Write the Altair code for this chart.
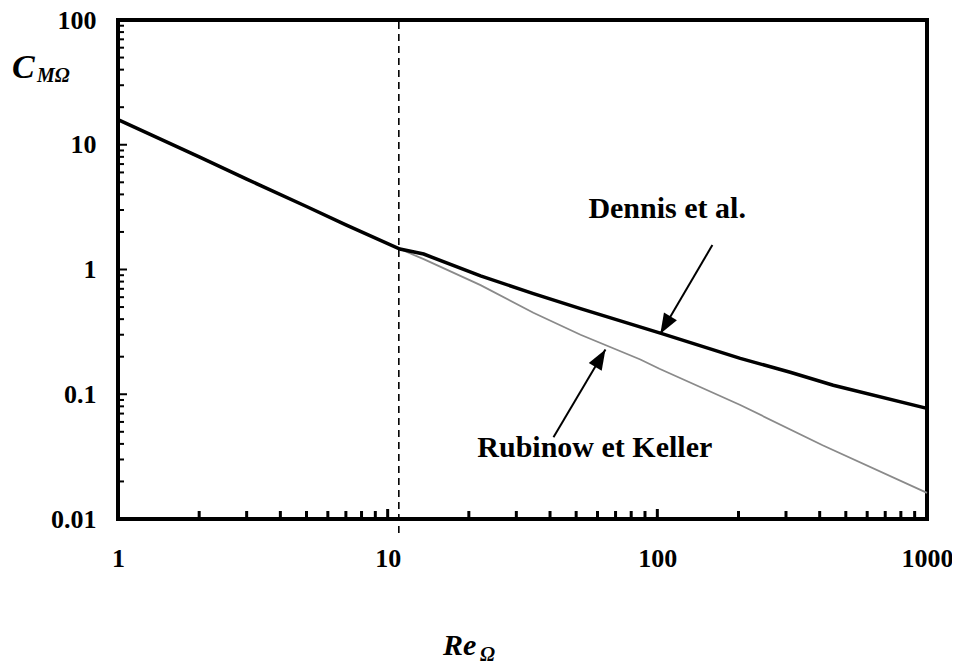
import altair as alt
import pandas as pd

# ---- data ----
dennis_re = [1, 2, 3, 5, 7, 11.1, 13.6, 22.1, 34.7, 51.9, 104, 203, 311, 449, 1000]
dennis_c = [15.9, 8.0, 5.3, 3.2, 2.28, 1.46, 1.33, 0.89, 0.64, 0.485, 0.306, 0.194, 0.150, 0.118, 0.077]

rubinow_re = [11.1, 13.6, 22.1, 34.7, 51.9, 86.5, 101.8, 203, 410, 1000]
rubinow_c = [1.46, 1.21, 0.75, 0.45, 0.30, 0.19, 0.16, 0.082, 0.039, 0.0162]

x_labels = [1, 10, 100, 1000]
y_labels = [0.01, 0.1, 1, 10, 100]
dashed_re = 11

# arrows: (start Re, start C, tip Re, tip C)
arrow_dennis = [160, 1.57, 102.6, 0.306]
arrow_rubinow = [41.2, 0.0453, 64.2, 0.228]

label_dennis = ["Dennis et al.", 55.5, 2.58]
label_rubinow = ["Rubinow et Keller", 21.5, 0.0313]

W, H = 809, 499
FONT = "Liberation Serif"

xs = alt.Scale(type="log", domain=[1, 1000], nice=False)
ys = alt.Scale(type="log", domain=[0.01, 100], nice=False)

# minor / major tick positions
x_minor = [d * k for d in [1, 10, 100] for k in range(2, 10)]
x_major = [10, 100]
y_minor = [d * k for d in [0.01, 0.1, 1, 10] for k in range(2, 10)]
y_major = [0.1, 1, 10]

df_d = pd.DataFrame({"Re": dennis_re, "C": dennis_c})
df_r = pd.DataFrame({"Re": rubinow_re, "C": rubinow_c})

base_axis_x = alt.Axis(values=x_labels, format="~g", title=None, labelPadding=26)
base_axis_y = alt.Axis(values=y_labels, format="~g", title=None, labelPadding=22)

dennis = alt.Chart(df_d).mark_line(color="black", strokeWidth=3.5).encode(
    x=alt.X("Re:Q", scale=xs, axis=base_axis_x),
    y=alt.Y("C:Q", scale=ys, axis=base_axis_y),
)
rubinow = alt.Chart(df_r).mark_line(color="#8a8a8a", strokeWidth=1.8).encode(
    x=alt.X("Re:Q", scale=xs),
    y=alt.Y("C:Q", scale=ys),
)

dashed = alt.Chart(pd.DataFrame({"Re": [dashed_re]})).mark_rule(
    color="black", strokeWidth=1.6, strokeDash=[7, 5]
).encode(x=alt.X("Re:Q", scale=xs), y=alt.value(2), y2=alt.value(H + 16))

xt_minor = alt.Chart(pd.DataFrame({"Re": x_minor})).mark_rule(color="black", strokeWidth=3).encode(
    x=alt.X("Re:Q", scale=xs), y=alt.value(H), y2=alt.value(H - 8))
xt_major = alt.Chart(pd.DataFrame({"Re": x_major})).mark_rule(color="black", strokeWidth=3).encode(
    x=alt.X("Re:Q", scale=xs), y=alt.value(H), y2=alt.value(H - 10))
yt_minor = alt.Chart(pd.DataFrame({"C": y_minor})).mark_rule(color="black", strokeWidth=2).encode(
    y=alt.Y("C:Q", scale=ys), x=alt.value(0), x2=alt.value(6))
yt_major = alt.Chart(pd.DataFrame({"C": y_major})).mark_rule(color="black", strokeWidth=2).encode(
    y=alt.Y("C:Q", scale=ys), x=alt.value(0), x2=alt.value(9))

arrows_df = pd.DataFrame({
    "x1": [arrow_dennis[0], arrow_rubinow[0]],
    "y1": [arrow_dennis[1], arrow_rubinow[1]],
    "x2": [arrow_dennis[2], arrow_rubinow[2]],
    "y2": [arrow_dennis[3], arrow_rubinow[3]],
    "ang": [210.3, 30.6],
})
shafts = alt.Chart(arrows_df).mark_rule(color="black", strokeWidth=2).encode(
    x=alt.X("x1:Q", scale=xs), y=alt.Y("y1:Q", scale=ys),
    x2="x2:Q", y2="y2:Q")
heads = alt.Chart(arrows_df).mark_point(
    shape="M0,0L-0.75,2L0.75,2Z", filled=True, color="black", opacity=1, size=400
).encode(x=alt.X("x2:Q", scale=xs), y=alt.Y("y2:Q", scale=ys), angle=alt.Angle("ang:Q", scale=None))

labels_df = pd.DataFrame({
    "t": [label_dennis[0], label_rubinow[0]],
    "Re": [label_dennis[1], label_rubinow[1]],
    "C": [label_dennis[2], label_rubinow[2]],
})
labels = alt.Chart(labels_df).mark_text(
    font=FONT, fontSize=30, fontWeight="bold", align="left", baseline="alphabetic", color="black"
).encode(x=alt.X("Re:Q", scale=xs), y=alt.Y("C:Q", scale=ys), text="t:N")

one = pd.DataFrame({"a": [0]})
c_main = alt.Chart(one).mark_text(text="C", font=FONT, fontSize=34, fontWeight="bold", fontStyle="italic",
                                  align="left", baseline="alphabetic", color="black").encode(
    x=alt.value(-106), y=alt.value(58))
c_sub = alt.Chart(one).mark_text(text="MΩ", font=FONT, fontSize=20, fontWeight="bold", fontStyle="italic",
                                 align="left", baseline="alphabetic", color="black").encode(
    x=alt.value(-81), y=alt.value(62))
re_main = alt.Chart(one).mark_text(text="Re", font=FONT, fontSize=30, fontWeight="bold", fontStyle="italic",
                                   align="left", baseline="alphabetic", color="black").encode(
    x=alt.value(325), y=alt.value(635))
re_sub = alt.Chart(one).mark_text(text="Ω", font=FONT, fontSize=20, fontWeight="bold", fontStyle="italic",
                                  align="left", baseline="alphabetic", color="black").encode(
    x=alt.value(362), y=alt.value(641))

chart = alt.layer(
    dashed, xt_minor, xt_major, yt_minor, yt_major, rubinow, dennis, shafts, heads, labels,
    c_main, c_sub, re_main, re_sub,
).properties(
    width=W, height=H,
    autosize=alt.AutoSizeParams(type="none"),
    padding={"left": 110, "top": 12, "right": 25, "bottom": 149},
    background="white",
).configure_view(
    stroke="black", strokeWidth=4
).configure_axis(
    grid=False, domain=False, ticks=False, labelFlush=False,
    labelFont=FONT, labelFontSize=26, labelFontWeight="bold", labelColor="black",
)

chart.save("out.html", embed_options={"renderer": "svg", "actions": False})
